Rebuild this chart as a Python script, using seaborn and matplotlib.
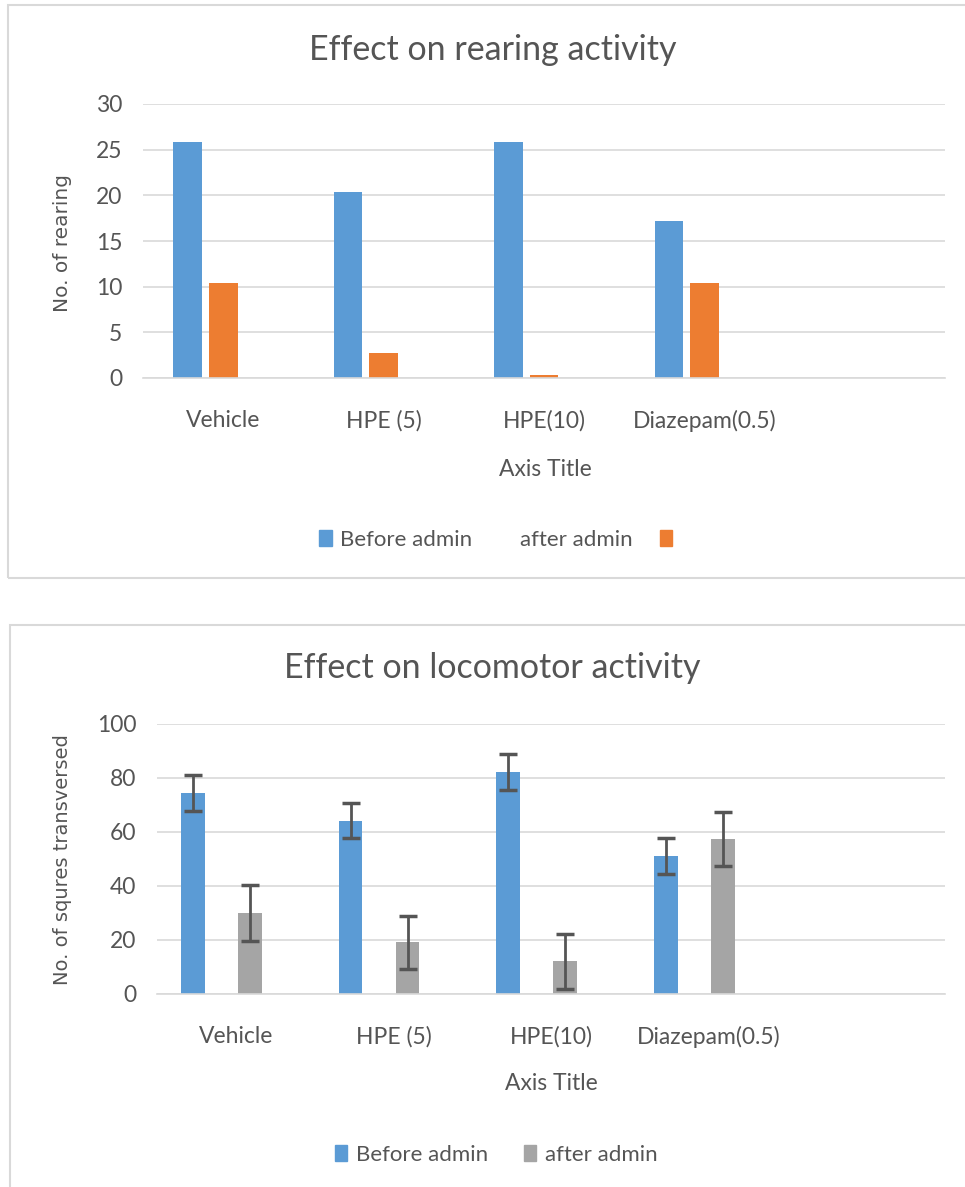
import numpy as np
import pandas as pd
import matplotlib
matplotlib.use("Agg")
import matplotlib.pyplot as plt
import seaborn as sns
from matplotlib.patches import Rectangle, Patch

groups = ["Vehicle", "HPE (5)", "HPE(10)", "Diazepam(0.5)"]

# rearing chart
rear_before = [25.8, 20.4, 25.8, 17.2]
rear_orange = [10.4, 2.7, 0.3, 10.4]

# locomotor chart
loco_before = [74.5, 64.1, 82.1, 51.2]
loco_after = [30.0, 19.1, 12.1, 57.4]
loco_before_err = [6.7, 6.5, 6.7, 6.6]
loco_after_err = [10.2, 9.8, 10.1, 10.0]

BLUE = "#5b9bd5"
ORANGE = "#ed7d31"
GRAY = "#a5a5a5"
TXT = "#555555"
GRID = "#d9d9d9"

sns.set_theme(style="white")
plt.rcParams["font.family"] = ["Lato", "DejaVu Sans"]

W, H = 965, 1187
fig = plt.figure(figsize=(W / 100, H / 100), dpi=100)


def fx(px):
    return px / W


def fy(py):
    return 1 - py / H


# panel borders
fig.patches.append(Rectangle((fx(8), fy(578)), fx(970 - 8), fy(5) - fy(578),
                             transform=fig.transFigure, fill=False, edgecolor=GRID, lw=1.5))
fig.patches.append(Rectangle((fx(10), fy(1195)), fx(970 - 10), fy(625) - fy(1195),
                             transform=fig.transFigure, fill=False, edgecolor=GRID, lw=1.5))


def style_axes(ax, ymax, step):
    ax.set_ylim(0, ymax)
    ax.set_yticks(np.arange(0, ymax + 1, step))
    ax.set_xlim(-0.5, 4.5)
    ax.yaxis.grid(True, color=GRID, lw=1.2)
    ax.set_axisbelow(True)
    for s in ["top", "right", "left"]:
        ax.spines[s].set_visible(False)
    ax.spines["bottom"].set_color(GRID)
    ax.spines["bottom"].set_linewidth(1.2)
    ax.tick_params(axis="both", length=0, colors=TXT, labelsize=16.5)
    ax.tick_params(axis="x", pad=23)
    ax.tick_params(axis="y", pad=15)
    ax.set_xlabel("")
    ax.set_ylabel("")


# ---- top chart: rearing ----
df1 = pd.DataFrame({
    "group": groups * 2,
    "series": ["Before admin"] * 4 + ["orange"] * 4,
    "value": rear_before + rear_orange,
})
ax1 = fig.add_axes([fx(143), fy(378), fx(945 - 143), fy(104) - fy(378)])
sns.barplot(data=df1, x="group", y="value", hue="series",
            hue_order=["Before admin", "orange", "after admin"],
            palette={"Before admin": BLUE, "orange": ORANGE, "after admin": GRAY},
            order=groups, width=0.664, gap=0.19, saturation=1, linewidth=0,
            errorbar=None, legend=False, ax=ax1)
style_axes(ax1, 30, 5)

fig.text(fx(493), fy(50), "Effect on rearing activity", ha="center", va="center",
         fontsize=24.5, color=TXT)
fig.text(fx(63), fy(243), "No. of rearing", rotation=90, ha="center", va="center",
         fontsize=14.5, color=TXT, family="DejaVu Sans")
fig.text(fx(545), fy(469), "Axis Title", ha="center", va="center", fontsize=16.5, color=TXT)

h1 = [Patch(color=BLUE), Patch(color="none"), Patch(color=ORANGE)]
fig.legend(h1, ["Before admin", "after admin", ""], loc="center",
           bbox_to_anchor=(fx(500), fy(540)), ncol=3, frameon=False,
           fontsize=16, labelcolor=TXT, handlelength=0.55, handleheight=0.75,
           handletextpad=0.4, columnspacing=1.2)

# ---- bottom chart: locomotor ----
df2 = pd.DataFrame({
    "group": groups * 2,
    "series": ["Before admin"] * 4 + ["after admin"] * 4,
    "value": loco_before + loco_after,
})
ax2 = fig.add_axes([fx(157), fy(994), fx(945 - 157), fy(724) - fy(994)])
sns.barplot(data=df2, x="group", y="value", hue="series",
            hue_order=["Before admin", "s2", "after admin", "s4"],
            palette={"Before admin": BLUE, "s2": ORANGE, "after admin": GRAY, "s4": GRID},
            order=groups, width=0.723, gap=0.17, saturation=1, linewidth=0,
            errorbar=None, legend=False, ax=ax2)
style_axes(ax2, 100, 20)

bar_sets = [c for c in ax2.containers if len(c.patches) > 0]
for cont, errs in zip(bar_sets, [loco_before_err, loco_after_err]):
    xs = [p.get_x() + p.get_width() / 2 for p in cont.patches]
    ys = [p.get_height() for p in cont.patches]
    ax2.errorbar(xs, ys, yerr=errs, fmt="none", ecolor=TXT, elinewidth=2,
                 capsize=6.5, capthick=2.5)

fig.text(fx(492), fy(668), "Effect on locomotor activity", ha="center", va="center",
         fontsize=24.5, color=TXT)
fig.text(fx(63), fy(860), "No. of squres transversed", rotation=90, ha="center",
         va="center", fontsize=14, color=TXT, family="DejaVu Sans")
fig.text(fx(551), fy(1083), "Axis Title", ha="center", va="center", fontsize=16.5, color=TXT)

h2 = [Patch(color=BLUE), Patch(color=GRAY)]
fig.legend(h2, ["Before admin", "after admin"], loc="center",
           bbox_to_anchor=(fx(496), fy(1155)), ncol=2, frameon=False,
           fontsize=16, labelcolor=TXT, handlelength=0.55, handleheight=0.75,
           handletextpad=0.4, columnspacing=1.6)

fig.savefig("out.png", dpi=100)
